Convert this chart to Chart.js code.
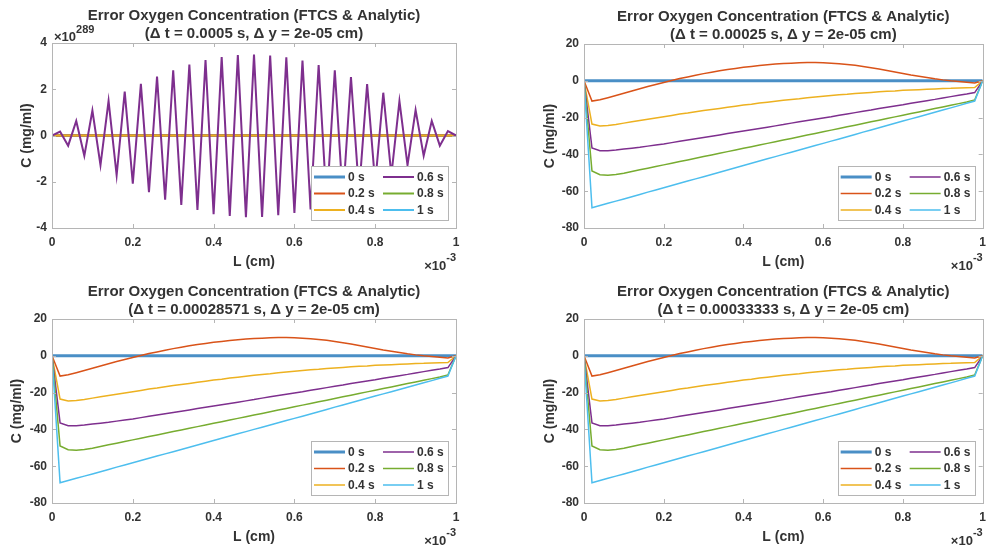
<!DOCTYPE html>
<html>
<head>
<meta charset="utf-8">
<script src="https://cdn.jsdelivr.net/npm/chart.js"></script>
<style>
  body { margin: 0; background: #fff; }
  .cell { position: absolute; }
</style>
</head>
<body>
<div class="cell" style="left:0;top:0"><canvas id="plot1" width="496" height="276"></canvas></div>
<div class="cell" style="left:496px;top:0"><canvas id="plot2" width="497" height="276"></canvas></div>
<div class="cell" style="left:0;top:276px"><canvas id="plot3" width="496" height="275"></canvas></div>
<div class="cell" style="left:496px;top:276px"><canvas id="plot4" width="497" height="275"></canvas></div>

<script>
// positions along L, in units of 1e-3 cm (dy = 2e-05 cm)
const xPos = [0, 0.02, 0.04, 0.06, 0.08, 0.1, 0.12, 0.14, 0.16, 0.18, 0.2, 0.22, 0.24, 0.26, 0.28, 0.3, 0.32, 0.34, 0.36, 0.38,
  0.4, 0.42, 0.44, 0.46, 0.48, 0.5, 0.52, 0.54, 0.56, 0.58, 0.6, 0.62, 0.64, 0.66, 0.68, 0.7, 0.72, 0.74, 0.76, 0.78,
  0.8, 0.82, 0.84, 0.86, 0.88, 0.9, 0.92, 0.94, 0.96, 0.98, 1];

const timeLabels = ['0 s', '0.2 s', '0.4 s', '0.6 s', '0.8 s', '1 s'];
const lineColors = ['#4a8fc6', '#D95319', '#EDB120', '#7E2F8E', '#77AC30', '#4DBEEE'];

// dt = 0.0005 s (unstable), values in units of 1e289 mg/ml
const zeroLine = [0, 0, 0, 0, 0, 0, 0, 0, 0, 0, 0, 0, 0, 0, 0, 0, 0, 0, 0, 0, 0, 0, 0, 0, 0, 0,
  0, 0, 0, 0, 0, 0, 0, 0, 0, 0, 0, 0, 0, 0, 0, 0, 0, 0, 0, 0, 0, 0, 0, 0, 0];
const unstable06 = [0, 0.17, -0.44, 0.63, -0.88, 1.08, -1.28, 1.5, -1.72, 1.9, -2.08, 2.23, -2.45, 2.55, -2.78, 2.82,
  -3.0, 3.07, -3.22, 3.26, -3.4, 3.39, -3.48, 3.48, -3.53, 3.5, -3.52, 3.46, -3.45, 3.38, -3.35, 3.24, -3.2, 3.05,
  -3.0, 2.82, -2.75, 2.53, -2.45, 2.22, -2.08, 1.85, -1.72, 1.49, -1.28, 1.1, -0.88, 0.63, -0.44, 0.19, 0];
const overflowed = []; // 0.8 s and 1 s blew past double range

// stable runs (dt = 0.00025, 0.00028571, 0.00033333 s), mg/ml
const err02 = [0, -11, -10.3, -9.2, -8.0, -6.8, -5.5, -4.3, -3.1, -2.0, -0.9, 0.2, 1.2, 2.1, 3.0, 3.9, 4.7, 5.4, 6.1, 6.7,
  7.3, 7.8, 8.3, 8.7, 9.1, 9.4, 9.6, 9.8, 9.9, 9.9, 9.8, 9.6, 9.3, 8.9, 8.4, 7.8, 7.1, 6.4, 5.6, 4.8,
  4.0, 3.2, 2.5, 1.8, 1.1, 0.5, 0.0, -0.4, -0.8, -1.2, 0];
const err04 = [0, -23.5, -24.5, -24.3, -23.7, -23.0, -22.3, -21.6, -20.9, -20.2, -19.5, -18.8, -18.1, -17.5, -16.8, -16.2,
  -15.6, -15.0, -14.4, -13.8, -13.2, -12.7, -12.1, -11.6, -11.1, -10.6, -10.1, -9.7, -9.2, -8.8, -8.4, -8.0, -7.6,
  -7.3, -6.9, -6.6, -6.3, -6.0, -5.7, -5.5, -5.2, -5.0, -4.8, -4.6, -4.4, -4.2, -4.1, -3.9, -3.8, -3.7, 0];
const err06 = [0, -36.5, -38, -38, -37.6, -37.1, -36.6, -36.1, -35.5, -34.9, -34.3, -33.6, -32.9, -32.2, -31.5, -30.8,
  -30.1, -29.4, -28.7, -28.0, -27.3, -26.6, -25.9, -25.2, -24.5, -23.8, -23.0, -22.3, -21.6, -20.9, -20.2, -19.5,
  -18.7, -18.0, -17.3, -16.6, -15.9, -15.1, -14.4, -13.7, -13.0, -12.2, -11.5, -10.8, -10.1, -9.3, -8.6, -7.9,
  -7.2, -6.4, 0];
const err08 = [0, -49, -51, -51.3, -50.9, -50.2, -49.3, -48.4, -47.5, -46.6, -45.7, -44.8, -43.9, -43.0, -42.1, -41.2,
  -40.3, -39.4, -38.5, -37.6, -36.7, -35.8, -34.9, -34.0, -33.1, -32.2, -31.3, -30.4, -29.5, -28.6, -27.7, -26.8,
  -25.9, -25.0, -24.1, -23.2, -22.3, -21.4, -20.5, -19.6, -18.7, -17.8, -16.9, -16.0, -15.1, -14.2, -13.3, -12.4,
  -11.5, -10.4, 0];
const err10 = [0, -69.0, -67.8, -66.6, -65.4, -64.2, -63.0, -61.8, -60.5, -59.3, -58.1, -56.9, -55.7, -54.5, -53.3,
  -52.1, -50.9, -49.7, -48.5, -47.3, -46.0, -44.8, -43.6, -42.4, -41.2, -40.0, -38.8, -37.6, -36.4, -35.2, -34.0,
  -32.8, -31.6, -30.4, -29.2, -27.9, -26.7, -25.5, -24.3, -23.1, -21.9, -20.7, -19.5, -18.3, -17.1, -15.9, -14.7,
  -13.5, -12.2, -11.0, 0];

const titleLine1 = 'Error Oxygen Concentration (FTCS & Analytic)';
const dtLabels = ['0.0005', '0.00025', '0.00028571', '0.00033333'];

const textColor = '#333333';
const boxColor = '#b5b5b5';

// MATLAB-like box, inward ticks, 2-column legend and exponent labels
const matlabAxes = {
  id: 'matlabAxes',
  afterDatasetsDraw(chart, args, opts) {
    const ctx = chart.ctx;
    const a = chart.chartArea;
    const xs = chart.scales.x, ys = chart.scales.y;
    ctx.save();
    ctx.strokeStyle = boxColor;
    ctx.lineWidth = 1;
    ctx.strokeRect(Math.round(a.left) + 0.5, Math.round(a.top) + 0.5, Math.round(a.width), Math.round(a.height));
    ctx.beginPath();
    xs.ticks.forEach(t => {
      const px = Math.round(xs.getPixelForValue(t.value)) + 0.5;
      ctx.moveTo(px, a.bottom); ctx.lineTo(px, a.bottom - 4);
      ctx.moveTo(px, a.top); ctx.lineTo(px, a.top + 4);
    });
    ys.ticks.forEach(t => {
      const py = Math.round(ys.getPixelForValue(t.value)) + 0.5;
      ctx.moveTo(a.left, py); ctx.lineTo(a.left + 4, py);
      ctx.moveTo(a.right, py); ctx.lineTo(a.right - 4, py);
    });
    ctx.stroke();

    // legend: two columns, filled column by column
    const ds = chart.data.datasets;
    const bw = 137, bh = 54;
    const bx = a.right - 8 - bw, by = a.bottom - 8 - bh;
    ctx.fillStyle = '#fff';
    ctx.fillRect(bx, by, bw, bh);
    ctx.strokeStyle = boxColor;
    ctx.strokeRect(Math.round(bx) + 0.5, Math.round(by) + 0.5, bw, bh);
    ctx.font = 'bold 12px "Liberation Sans", Arial, sans-serif';
    ctx.textBaseline = 'middle';
    ctx.textAlign = 'left';
    ds.forEach((d, i) => {
      const col = Math.floor(i / 3), row = i % 3;
      const lx = bx + (col === 0 ? 3 : 72);
      const ly = by + 11 + row * 16.5;
      ctx.strokeStyle = d.borderColor;
      ctx.lineWidth = d.borderWidth;
      ctx.beginPath();
      ctx.moveTo(lx, ly); ctx.lineTo(lx + 31, ly);
      ctx.stroke();
      ctx.fillStyle = textColor;
      ctx.fillText(d.label, lx + 34, ly + 0.5);
    });

    // x multiplier
    ctx.fillStyle = textColor;
    ctx.textAlign = 'right';
    ctx.font = 'bold 11px "Liberation Sans", Arial, sans-serif';
    ctx.fillText('-3', a.right, a.bottom + 30);
    const w3 = ctx.measureText('-3').width;
    ctx.font = 'bold 13px "Liberation Sans", Arial, sans-serif';
    ctx.fillText('\u00d710', a.right - w3, a.bottom + 38);

    // y multiplier
    if (opts.yExp) {
      ctx.textAlign = 'left';
      ctx.font = 'bold 13px "Liberation Sans", Arial, sans-serif';
      ctx.fillText('\u00d710', a.left + 2, a.top - 6);
      const w = ctx.measureText('\u00d710').width;
      ctx.font = 'bold 11px "Liberation Sans", Arial, sans-serif';
      ctx.fillText(opts.yExp, a.left + 2 + w, a.top - 13);
    }
    ctx.restore();
  }
};

function makeSeries(values, width) {
  return timeLabels.map((lab, i) => ({
    label: lab,
    data: values[i].map((v, k) => ({ x: xPos[k], y: v })),
    borderColor: lineColors[i],
    borderWidth: i === 0 ? 3 : width,
    pointRadius: 0,
    tension: 0,
    fill: false,
    order: -i
  }));
}

function makePlot(id, cfg) {
  new Chart(document.getElementById(id), {
    type: 'line',
    data: { datasets: makeSeries(cfg.values, cfg.lineWidth || 1.5) },
    plugins: [matlabAxes],
    options: {
      responsive: false,
      animation: false,
      layout: { padding: { left: 0, right: cfg.padRight, top: cfg.padTop, bottom: 0 } },
      plugins: {
        legend: { display: false },
        tooltip: { enabled: false },
        matlabAxes: { yExp: cfg.yExp },
        title: {
          display: true,
          fullSize: false,
          text: [titleLine1, '(\u0394 t = ' + cfg.dt + ' s, \u0394 y = 2e-05 cm)'],
          color: textColor,
          font: { family: '"Liberation Sans", Arial, sans-serif', size: 15, weight: 'bold', lineHeight: 1.2 },
          padding: { top: 7, bottom: 0 }
        }
      },
      scales: {
        x: {
          type: 'linear',
          min: 0, max: 1,
          grid: { display: false, drawTicks: false },
          border: { display: false },
          ticks: {
            stepSize: 0.2,
            padding: 7,
            color: textColor,
            maxRotation: 0,
            font: { family: '"Liberation Sans", Arial, sans-serif', size: 12, weight: 'bold' },
            callback: v => String(Number(v.toFixed(1)))
          },
          title: {
            display: true,
            text: 'L (cm)',
            color: textColor,
            font: { family: '"Liberation Sans", Arial, sans-serif', size: 14, weight: 'bold' },
            padding: { top: 0, bottom: 5.5 }
          },
          afterFit: s => { s.height = 48; }
        },
        y: {
          min: cfg.yMin, max: cfg.yMax,
          grid: { display: false, drawTicks: false },
          border: { display: false },
          ticks: {
            stepSize: cfg.yStep,
            padding: 5,
            color: textColor,
            font: { family: '"Liberation Sans", Arial, sans-serif', size: 12, weight: 'bold' }
          },
          title: {
            display: true,
            text: 'C (mg/ml)',
            color: textColor,
            font: { family: '"Liberation Sans", Arial, sans-serif', size: 14, weight: 'bold' },
            padding: { top: cfg.yTitlePad, bottom: 0 }
          },
          afterFit: s => { s.width = cfg.yWidth; }
        }
      }
    }
  });
}

const stableValues = [zeroLine, err02, err04, err06, err08, err10];

makePlot('plot1', {
  dt: dtLabels[0], values: [zeroLine, zeroLine, zeroLine, unstable06, overflowed, overflowed],
  yMin: -4, yMax: 4, yStep: 2, yExp: '289', lineWidth: 2,
  yWidth: 52, yTitlePad: 18.5, padRight: 40, padTop: 0
});
makePlot('plot2', {
  dt: dtLabels[1], values: stableValues,
  yMin: -80, yMax: 20, yStep: 20,
  yWidth: 88, yTitlePad: 45.5, padRight: 5, padTop: 1
});
makePlot('plot3', {
  dt: dtLabels[2], values: stableValues,
  yMin: -80, yMax: 20, yStep: 20,
  yWidth: 52, yTitlePad: 8.5, padRight: 40, padTop: 0
});
makePlot('plot4', {
  dt: dtLabels[3], values: stableValues,
  yMin: -80, yMax: 20, yStep: 20,
  yWidth: 88, yTitlePad: 45.5, padRight: 5, padTop: 0
});
</script>
</body>
</html>
